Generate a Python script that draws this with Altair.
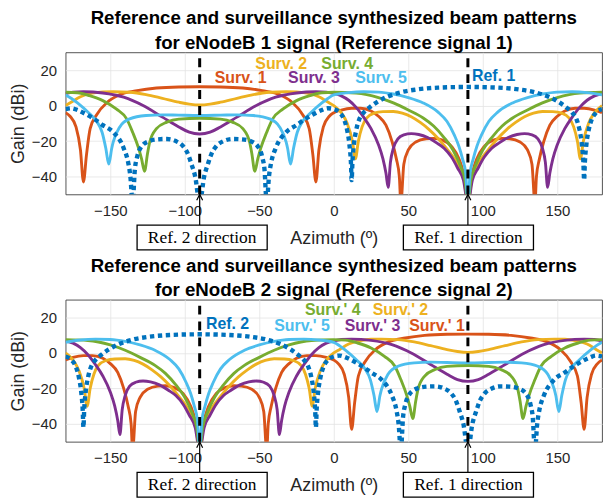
import altair as alt
import pandas as pd

# ---------- beam patterns (azimuth deg, gain dBi) ----------
ref_az = [-180, -176, -172, -166, -160, -155, -148, -141, -138, -136.5, -135, -133.5, -132, -129, -124, -118, -112,
          -106, -101, -98, -95.5, -93, -90, -87, -84.5, -82, -79, -74, -68, -62, -56, -51, -48, -46.5, -45, -43.5,
          -42, -39, -32, -25, -20, -14, -8, -4, 0, 4, 7, 9, 10.5, 11.5, 12, 12.5, 13.5, 15, 17, 20, 24, 29, 36, 45,
          55, 70, 90, 110, 125, 135, 144, 151, 156, 160, 163, 165, 166.5, 167.5, 168, 168.5, 169.5, 171, 173, 176, 180]
ref_db = [-2, -1.5, -2.5, -5, -8, -11, -15, -24, -32, -40, -55, -36, -29, -23, -20, -19, -18.8,
          -20, -23, -27, -33, -40, -55, -40, -33, -27, -23, -20, -18.8, -19, -20, -23, -29, -36, -55, -40,
          -32, -24, -15, -11, -8, -5, -2.5, -1.5, -2, -4, -8, -14, -22, -32, -42, -32, -22, -14, -8, -4, -1, 2, 5, 7.5,
          9, 10.1, 10.5, 10.1, 9, 7.5, 5, 2, -1, -4, -8, -14, -22, -32, -42, -32, -22, -14, -8, -4, -2]

s1_az = [-180, -177, -173, -170, -168, -166, -163.5, -159, -152, -144, -132, -119, -104, -90, -76, -61, -48, -36,
         -28, -21, -16.5, -14, -12, -10, -7, -3, 0, 5, 12, 18, 25, 30, 35, 39, 42, 44, 45, 47, 50, 55, 62, 67, 73,
         79, 84, 87, 90, 93, 96, 101, 107, 113, 118, 125, 130, 133, 135, 136, 138, 141, 145, 150, 155, 162, 168, 175, 180]
s1_db = [-4, -6, -12, -25, -43, -28, -13, -5, 1.9, 6, 8.4, 9.9, 10.5, 10.6, 10.5, 9.9, 8.4, 6,
         1.9, -5, -13, -28, -43, -25, -12, -6, -4, -2.5, -1.5, -1.5, -3, -6, -11, -20, -30, -40, -55, -33, -25, -20.5,
         -18.7, -18.5, -19.5, -23, -30, -38, -55, -38, -30, -23, -19.5, -18.5, -18.7, -20.5, -25, -33, -55, -40, -30,
         -20, -11, -6, -3, -1.5, -1.5, -2.5, -4]

s2_az = [-180, -176, -170, -162, -155, -148, -137, -126, -115, -104, -97, -90, -83, -76, -65, -54, -43, -32, -25,
         -18, -10, -4, 0, 5, 9, 12.5, 14.5, 16.5, 19, 22, 27, 33, 40, 46, 52, 58, 64, 70, 76, 81, 85, 88, 90, 92, 95,
         99, 104, 110, 116, 122, 128, 134, 140, 147, 153, 158, 161, 163.5, 165.5, 167.5, 171, 175, 180]
s2_db = [0, 2, 5, 7, 7.7, 7.8, 7.5, 6.2, 4.1, 1.9, 0.8, 0.3, 0.8, 1.9, 4.1, 6.2, 7.5, 7.8, 7.7,
         7, 5, 2, 0, -4, -10, -20, -30, -20, -12, -7, -4.3, -3.4, -3.3, -4.2, -6.3, -9.5, -13.5, -18.5, -24.5, -30,
         -36, -43, -55, -43, -36, -30, -24.5, -18.5, -13.5, -9.5, -6.3, -4.2, -3.3, -3.4, -4.3, -7, -12, -20, -30,
         -20, -10, -4, 0]

s3_az = [-180, -175, -168, -155, -141, -128, -115, -104, -97, -90, -83, -76, -65, -52, -39, -25, -12, -5, 0, 5,
         10, 15, 20, 25, 30, 33, 35, 36.5, 38, 40, 43, 47, 52, 57, 63, 69, 74, 79, 83, 87, 90, 93, 97, 101, 106, 111,
         117, 123, 128, 133, 137, 140, 142, 143.5, 145, 147, 150, 155, 160, 165, 170, 175, 180]
s3_db = [6.8, 7.6, 7.8, 7.1, 4.7, 0, -6.5, -12, -15, -16, -15, -12, -6.5, 0, 4.7, 7.1, 7.8, 7.6, 6.8, 5.5,
         3, -1, -6.5, -13, -22, -30, -38, -46, -32, -24, -18.7, -16.5, -15.8, -16.3, -18, -21, -24, -29, -35, -42,
         -55, -42, -35, -29, -24, -21, -18, -16.3, -15.8, -16.5, -18.7, -24, -32, -46, -38, -30, -22, -13, -6.5, -1,
         3, 5.5, 6.8]

s4_az = [-180, -172, -164, -155, -146, -139, -135, -131, -129, -127, -125, -123.5, -119, -112, -104, -90, -76, -68,
         -61, -56.5, -55, -53, -51, -49, -45, -41, -34, -25, -16, -8, 0, 15, 30, 40, 50, 60, 67, 74, 80, 85, 88, 90,
         92, 95, 100, 106, 113, 120, 130, 140, 150, 165, 180]
s4_db = [7.5, 7.2, 5.6, 2.8, -1.9, -7.5, -15, -24, -30, -37, -27, -20.5, -13, -9.3, -7.6, -7.1, -7.6, -9.3,
         -13, -20.5, -27, -37, -30, -24, -15, -7.5, -1.9, 2.8, 5.6, 7.2, 7.5, 7, 4.5, 1.5, -2.5, -7, -11.5, -18,
         -25, -34, -42, -55, -42, -34, -25, -18, -11.5, -7, -2.5, 1.5, 4.5, 7, 7.5]

s5_az = [-180, -176, -172, -164, -159, -155.5, -153, -151, -149, -148, -143.6, -137, -126, -115, -104, -90, -76, -65,
         -54, -43, -36.4, -32, -31, -29, -27, -24.5, -21, -16, -8, -4, 0, 10, 20, 30, 40, 50, 60, 70, 76, 81, 84,
         86.4, 88.5, 90, 91.5, 93.6, 96, 99, 104, 110, 120, 130, 140, 150, 160, 170, 180]
s5_db = [6, 4, 1.5, -4.5, -9, -15, -24, -33, -24, -20.5, -12, -7.5, -5.6, -5.2, -5.4, -5.6, -5.4, -5.2,
         -5.6, -7.5, -12, -20.5, -24, -33, -24, -15, -9, -4.5, 1.5, 4, 6, 7.3, 7.8, 7.6, 6.5, 4.5, 1.5, -3.7, -9,
         -16.8, -23, -30, -38, -55, -38, -30, -23, -16.8, -9, -3.7, 1.5, 4.5, 6.5, 7.6, 7.8, 7.3, 6]

# ---------- in-plot labels ----------
top_lab_text = ["Surv. 2", "Surv. 4", "Surv. 1", "Surv. 3", "Surv. 5", "Ref. 1"]
top_lab_key = ["s2", "s4", "s1", "s3", "s5", "ref"]
top_lab_az = [-35.3, 9, -62.5, -13.3, 31.7, 107.3]
top_lab_db = [23.3, 23.3, 15.4, 15.4, 15.4, 16.6]

bot_lab_text = ["Surv.' 4", "Surv.' 2", "Ref. 2", "Surv.' 5", "Surv.' 3", "Surv.' 1"]
bot_lab_key = ["s4", "s2", "ref", "s5", "s3", "s1"]
bot_lab_az = [-0.7, 44.7, -71.3, -21.3, 26, 69.3]
bot_lab_db = [24, 24, 16.2, 15.4, 15.4, 15.4]

dir_az = [-90, 90]
dir_text = ["Ref. 2 direction", "Ref. 1 direction"]
box_left = [-132, 46.7]
box_right = [-44.7, 134]

x_ticks = [-150, -100, -50, 0, 50, 100, 150]
y_ticks = [-40, -20, 0, 20]

COLORS = {"ref": "#0072BD", "s1": "#D95319", "s2": "#EDB120", "s3": "#7E2F8E",
          "s4": "#77AC30", "s5": "#4DBEEE"}

curves = [("s1", s1_az, s1_db), ("s2", s2_az, s2_db), ("s3", s3_az, s3_db),
          ("s4", s4_az, s4_db), ("s5", s5_az, s5_db), ("ref", ref_az, ref_db)]

W, H = 540, 143
xscale = alt.Scale(domain=[-180, 180], nice=False, zero=False)
yscale = alt.Scale(domain=[-50, 30], nice=False, zero=False)
xaxis = alt.Axis(values=x_ticks, title="Azimuth (º)", grid=True, ticks=False, domain=False,
                 labelPadding=9, titlePadding=11, labelFontSize=15, titleFontSize=18,
                 labelFont="Liberation Sans", titleFont="Liberation Sans", labelColor="#262626",
                 titleColor="#262626", titleFontWeight="normal", gridColor="#e3e3e3", gridWidth=0.8)
yaxis = alt.Axis(values=y_ticks, title="Gain (dBi)", grid=True, ticks=False, domain=False,
                 labelPadding=9, titlePadding=4, labelFontSize=15, titleFontSize=18,
                 labelFont="Liberation Sans", titleFont="Liberation Sans", labelColor="#262626",
                 titleColor="#262626", titleFontWeight="normal", gridColor="#e3e3e3", gridWidth=0.8)


def X(field):
    return alt.X(field, type="quantitative", scale=xscale, axis=xaxis)


def Y(field):
    return alt.Y(field, type="quantitative", scale=yscale, axis=yaxis)


def panel(sign, title_lines, lab_text, lab_key, lab_az, lab_db):
    layers = []
    for key, az, db in curves:
        d = pd.DataFrame({"az": [sign * a for a in az], "gain": db})
        if key == "ref":
            m = alt.Chart(d).mark_line(color=COLORS[key], strokeWidth=4.4, strokeDash=[4.4, 3.6],
                                       strokeCap="butt", clip=True, interpolate="monotone")
        else:
            m = alt.Chart(d).mark_line(color=COLORS[key], strokeWidth=2.9, clip=True,
                                       interpolate="monotone")
        layers.append(m.encode(x=X("az"), y=Y("gain"), order=alt.Order("az:Q")))

    ddir = pd.DataFrame({"az": dir_az, "text": dir_text, "x1": box_left, "x2": box_right})
    layers.append(alt.Chart(ddir).mark_rule(color="black", strokeWidth=3, strokeDash=[9, 7]).encode(
        x=X("az"), y=alt.datum(-50), y2=alt.datum(30)))

    dl = pd.DataFrame({"az": lab_az, "gain": lab_db, "text": lab_text, "key": lab_key})
    layers.append(alt.Chart(dl).mark_text(font="Liberation Sans", fontSize=16, fontWeight="bold",
                                          baseline="middle", align="center").encode(
        x=X("az"), y=Y("gain"), text="text:N",
        color=alt.Color("key:N", scale=alt.Scale(domain=list(COLORS.keys()), range=list(COLORS.values())),
                        legend=None)))

    # direction arrows and boxes below the axis
    layers.append(alt.Chart(ddir).mark_rule(color="black", strokeWidth=1.2).encode(
        x=X("az"), y=alt.datum(-50), y2=alt.datum(-67.3)))
    layers.append(alt.Chart(ddir).mark_point(shape="M -0.6 1.2 L 0 0 L 0.6 1.2", filled=False, color="black",
                                             strokeWidth=1.2, size=100, opacity=1).encode(
        x=X("az"), y=alt.datum(-50)))
    layers.append(alt.Chart(ddir).mark_rect(fill="white", stroke="black", strokeWidth=1.3).encode(
        x=X("x1"), x2="x2", y=alt.datum(-67.3), y2=alt.datum(-81.2)))
    ddir2 = ddir.assign(mid=[(a + b) / 2 for a, b in zip(box_left, box_right)])
    layers.append(alt.Chart(ddir2).mark_text(font="Liberation Serif", fontSize=17.5, color="black",
                                             baseline="middle", align="center").encode(
        x=X("mid"), y=alt.datum(-74.4), text="text:N"))

    return alt.layer(*layers).properties(
        width=W, height=H,
        title=alt.TitleParams(text=title_lines, fontSize=18.8, fontWeight="bold", font="Liberation Sans",
                              lineHeight=25, offset=-2, anchor="middle", color="black"))


top = panel(1, ["Reference and surveillance synthesized beam patterns",
                "for eNodeB 1 signal (Reference signal 1)"],
            top_lab_text, top_lab_key, top_lab_az, top_lab_db)
bottom = panel(-1, ["Reference and surveillance synthesized beam patterns",
                    "for eNodeB 2 signal (Reference signal 2)"],
               bot_lab_text, bot_lab_key, bot_lab_az, bot_lab_db)

chart = alt.vconcat(top, bottom, spacing=106, bounds="flush").properties(
    autosize=alt.AutoSizeParams(type="pad"),
    padding={"left": 9, "top": 7, "right": 0, "bottom": 0},
    background="white",
).configure_view(stroke="#404040", strokeWidth=0.9)

chart.save("out.html", embed_options={"renderer": "svg", "actions": False})
